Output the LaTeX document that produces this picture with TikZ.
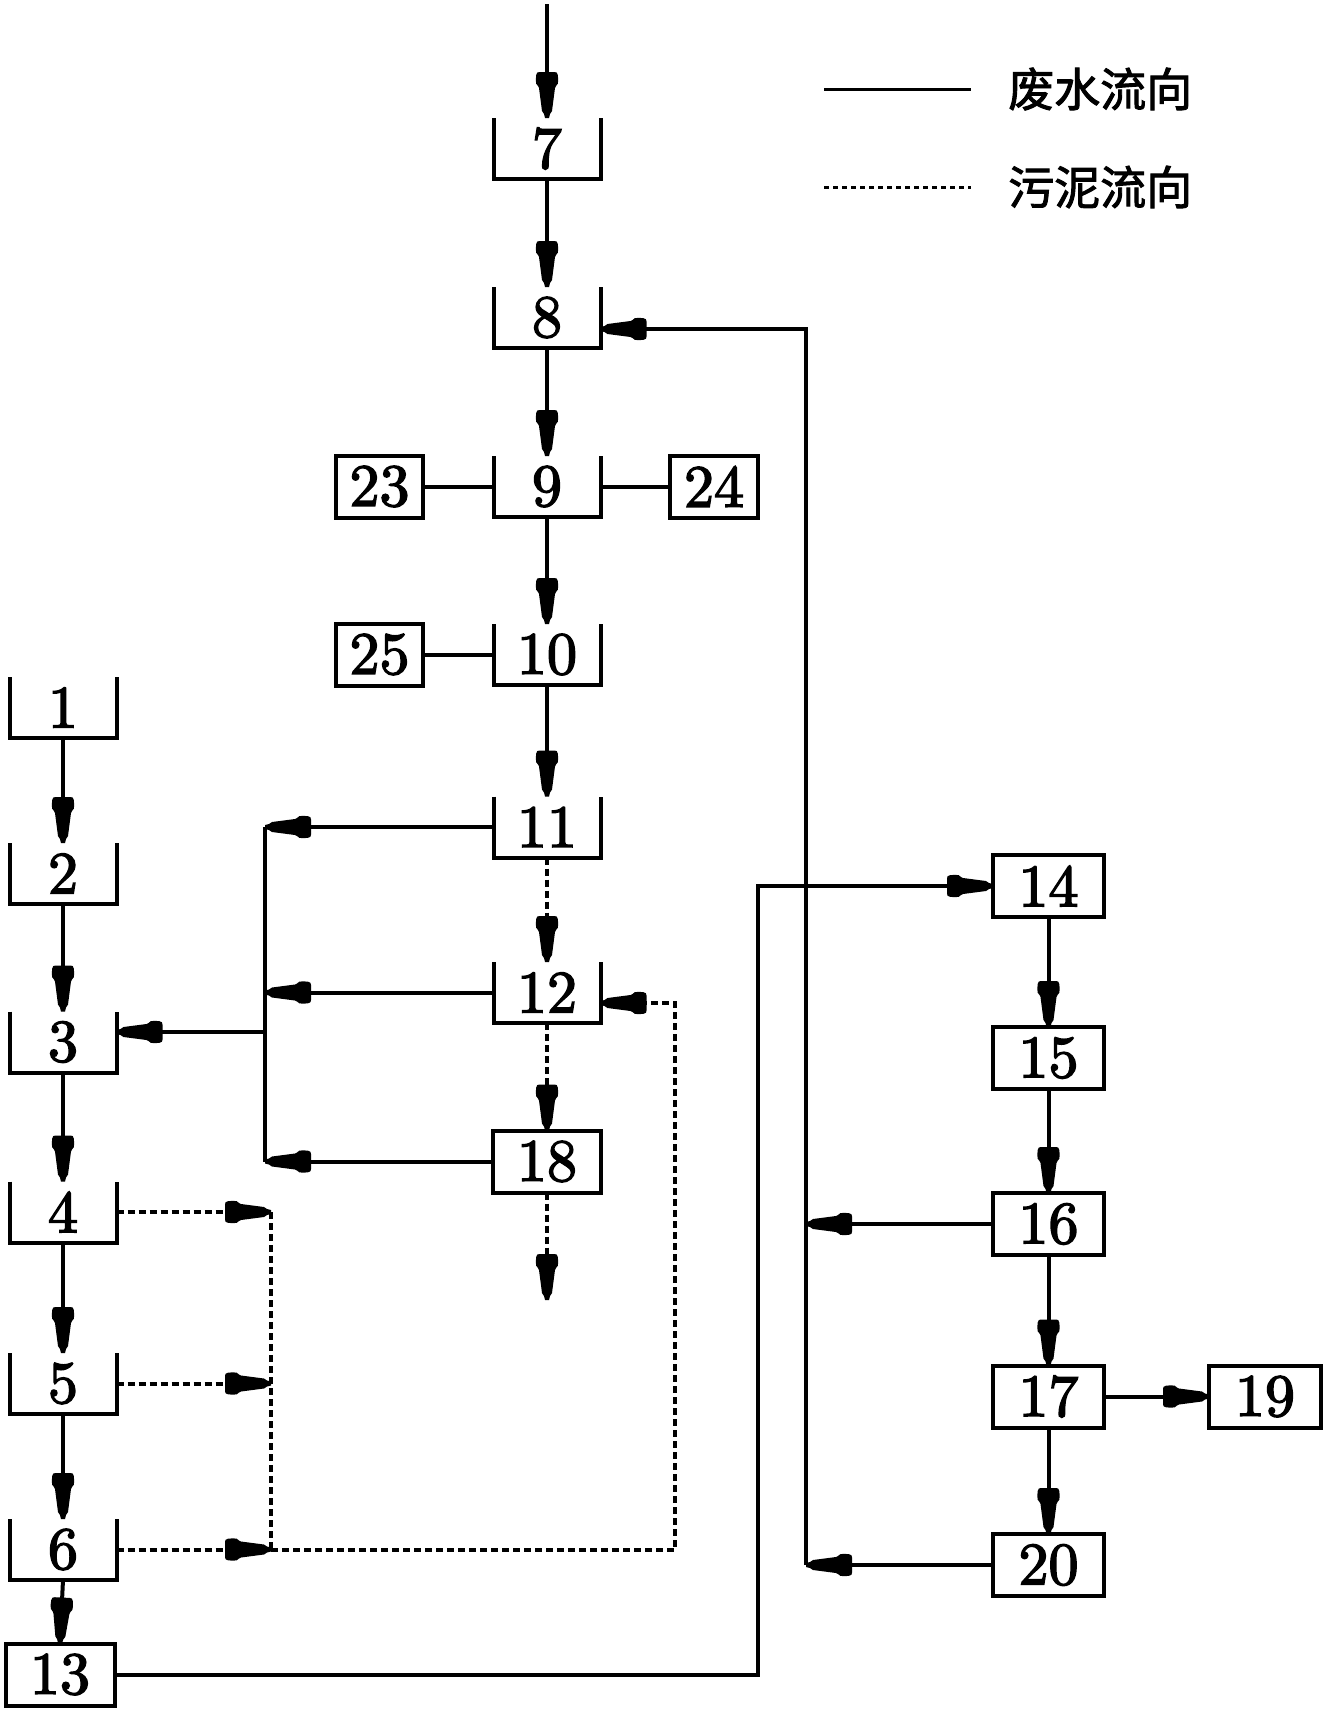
\documentclass[tikz,border=0pt]{standalone}
\usepackage{fontspec}
\newfontfamily\cjk{Noto Sans CJK SC}[FakeBold=2]
\newfontfamily\dig{lmroman10-regular.otf}[FakeBold=2.5]
\usetikzlibrary{arrows.meta}
\pgfdeclarearrow{
  name = Bul,
  setup code = {
    \pgfarrowssettipend{0pt}
    \pgfarrowssetlineend{-20pt}
    \pgfarrowssetvisualbackend{-46pt}
    \pgfarrowssetbackend{-46pt}
    \pgfarrowsupperhullpoint{-46pt}{11pt}
    \pgfarrowsupperhullpoint{0pt}{2pt}
  },
  drawing code = {
    \pgfpathmoveto{\pgfqpoint{0pt}{2pt}}
    \pgfpathlineto{\pgfqpoint{-4pt}{3pt}}
    \pgfpathlineto{\pgfqpoint{-7pt}{5pt}}
    \pgfpathlineto{\pgfqpoint{-30pt}{8pt}}
    \pgfpathlineto{\pgfqpoint{-32pt}{9pt}}
    \pgfpathcurveto{\pgfqpoint{-33pt}{10.8pt}}{\pgfqpoint{-35pt}{11.2pt}}{\pgfqpoint{-38pt}{11.2pt}}
    \pgfpathlineto{\pgfqpoint{-43pt}{10.8pt}}
    \pgfpathcurveto{\pgfqpoint{-45.5pt}{10.4pt}}{\pgfqpoint{-46pt}{9.4pt}}{\pgfqpoint{-46pt}{7.5pt}}
    \pgfpathlineto{\pgfqpoint{-46pt}{-7.5pt}}
    \pgfpathcurveto{\pgfqpoint{-46pt}{-9.4pt}}{\pgfqpoint{-45.5pt}{-10.4pt}}{\pgfqpoint{-43pt}{-10.8pt}}
    \pgfpathlineto{\pgfqpoint{-38pt}{-11.2pt}}
    \pgfpathcurveto{\pgfqpoint{-35pt}{-11.2pt}}{\pgfqpoint{-33pt}{-10.8pt}}{\pgfqpoint{-32pt}{-9pt}}
    \pgfpathlineto{\pgfqpoint{-30pt}{-8pt}}
    \pgfpathlineto{\pgfqpoint{-7pt}{-5pt}}
    \pgfpathlineto{\pgfqpoint{-4pt}{-3pt}}
    \pgfpathlineto{\pgfqpoint{0pt}{-2pt}}
    \pgfpathclose
    \pgfusepathqfill
  }
}
\tikzset{
  boxline/.style={line width=4pt, line join=miter},
  tanknode/.style={minimum width=107pt, minimum height=61pt, inner sep=0pt, outer sep=0pt,
    font=\dig\fontsize{60}{60}\selectfont},
  box/.style={draw, line width=4pt, minimum height=62pt, inner sep=0pt, outer sep=0pt,
    font=\dig\fontsize{60}{60}\selectfont},
  plain/.style={line width=4pt},
  flow/.style={line width=4pt, -Bul},
  sludge/.style={line width=4pt, dash pattern=on 7pt off 4pt, -Bul},
  sludgeline/.style={line width=4pt, dash pattern=on 7pt off 4pt},
  legendtxt/.style={anchor=west, inner sep=0pt, font=\cjk\fontsize{46}{46}\selectfont}
}
\newcommand\mytank[4]{%
  \node[tanknode] (#1) at (#2,#3) {#4};
  \draw[boxline] (#1.north west) |- (#1.south east) -- (#1.north east);
}
\begin{document}
\begin{tikzpicture}[x=1pt,y=-1pt]
\useasboundingbox (0,0) rectangle (1326,1711);

% central column
\mytank{b7}{547}{148.5}{7}
\mytank{b8}{547}{317.5}{8}
\mytank{b9}{547}{486.5}{9}
\mytank{b10}{547}{654.5}{10}
\mytank{b11}{547}{827}{11}
\mytank{b12}{547}{992.5}{12}
\node[box, minimum width=108pt] (b18) at (547,1161.5) {18};
\node[box, minimum width=87pt] (b23) at (379.5,486.5) {23};
\node[box, minimum width=88pt] (b24) at (714,486.5) {24};
\node[box, minimum width=87pt] (b25) at (379.5,654.5) {25};

% left column
\mytank{b1}{63}{707.5}{1}
\mytank{b2}{63}{873.5}{2}
\mytank{b3}{63}{1042}{3}
\mytank{b4}{63}{1212}{4}
\mytank{b5}{63}{1383.5}{5}
\mytank{b6}{63}{1549.5}{6}
\node[box, minimum width=109pt] (b13) at (60,1674.5) {13};

% right column
\node[box, minimum width=111pt] (b14) at (1048.5,886) {14};
\node[box, minimum width=111pt] (b15) at (1048.5,1058) {15};
\node[box, minimum width=111pt] (b16) at (1048.5,1224) {16};
\node[box, minimum width=111pt] (b17) at (1048.5,1396.5) {17};
\node[box, minimum width=111pt] (b20) at (1048.5,1565) {20};
\node[box, minimum width=112pt] (b19) at (1265,1396.5) {19};

% legend
\coordinate (la) at (824,89);
\coordinate (lb) at (971,89);
\coordinate (lc) at (824,187);
\coordinate (ld) at (971,187);
\draw[line width=3pt] (la) -- (lb);
\draw[line width=3pt, dash pattern=on 5pt off 4pt] (lc) -- (ld);
\node[legendtxt] (t1) at (1008,89) {废水流向};
\node[legendtxt] (t2) at (1008,187) {污泥流向};

% coordinates
\coordinate (in7) at (547,4);
\coordinate (out18) at (547,1300);
\coordinate (jx) at (265,0);
\coordinate (j3) at (265,1032);
\coordinate (kx) at (271,0);
\coordinate (kr) at (675,0);
\coordinate (r12) at (675,1003);
\coordinate (r8) at (806,329);
\coordinate (j16) at (806,1224);
\coordinate (j20) at (806,1565);
\coordinate (r14) at (758,886);

% central flow
\draw[flow] (in7) -- (b7.north);
\draw[flow] (b7.south) -- (b8.north);
\draw[flow] (b8.south) -- (b9.north);
\draw[flow] (b9.south) -- (b10.north);
\draw[flow] (b10.south) -- (b11.north);
\draw[sludge] (b11.south) -- (b12.north);
\draw[sludge] (b12.south) -- (b18.north);
\draw[sludge] (b18.south) -- (out18);
\draw[plain] (b23.east) -- (b9.west);
\draw[plain] (b9.east) -- (b24.west);
\draw[plain] (b25.east) -- (b10.west);

% left flow
\draw[flow] (b1.south) -- (b2.north);
\draw[flow] (b2.south) -- (b3.north);
\draw[flow] (b3.south) -- (b4.north);
\draw[flow] (b4.south) -- (b5.north);
\draw[flow] (b5.south) -- (b6.north);
\draw[flow] (b6.south) -- (b13.north);

% return to 3
\draw[flow] (b11.west) -- (b11.west -| jx);
\draw[flow] (b12.west) -- (b12.west -| jx);
\draw[flow] (b18.west) -- (b18.west -| jx);
\draw[plain] (b11.west -| jx) -- (b18.west -| jx);
\draw[flow] (j3) -- (j3 -| b3.east);

% sludge collection
\draw[sludge] (b4.east) -- (b4.east -| kx);
\draw[sludge] (b5.east) -- (b5.east -| kx);
\draw[sludge] (b6.east) -- (b6.east -| kx);
\draw[sludgeline] (b4.east -| kx) -- (b6.east -| kx);
\draw[sludge] (b6.east -| kx) -- (b6.east -| kr) -- (r12) -- (r12 -| b12.east);

% right flow
\draw[flow] (b13.east) -| (r14) -- (b14.west);
\draw[flow] (b14.south) -- (b15.north);
\draw[flow] (b15.south) -- (b16.north);
\draw[flow] (b16.south) -- (b17.north);
\draw[flow] (b17.south) -- (b20.north);
\draw[flow] (b17.east) -- (b19.west);
\draw[flow] (b16.west) -- (j16);
\draw[flow] (b20.west) -- (j20);
\draw[flow] (j20) -- (r8) -- (r8 -| b8.east);
\end{tikzpicture}
\end{document}
